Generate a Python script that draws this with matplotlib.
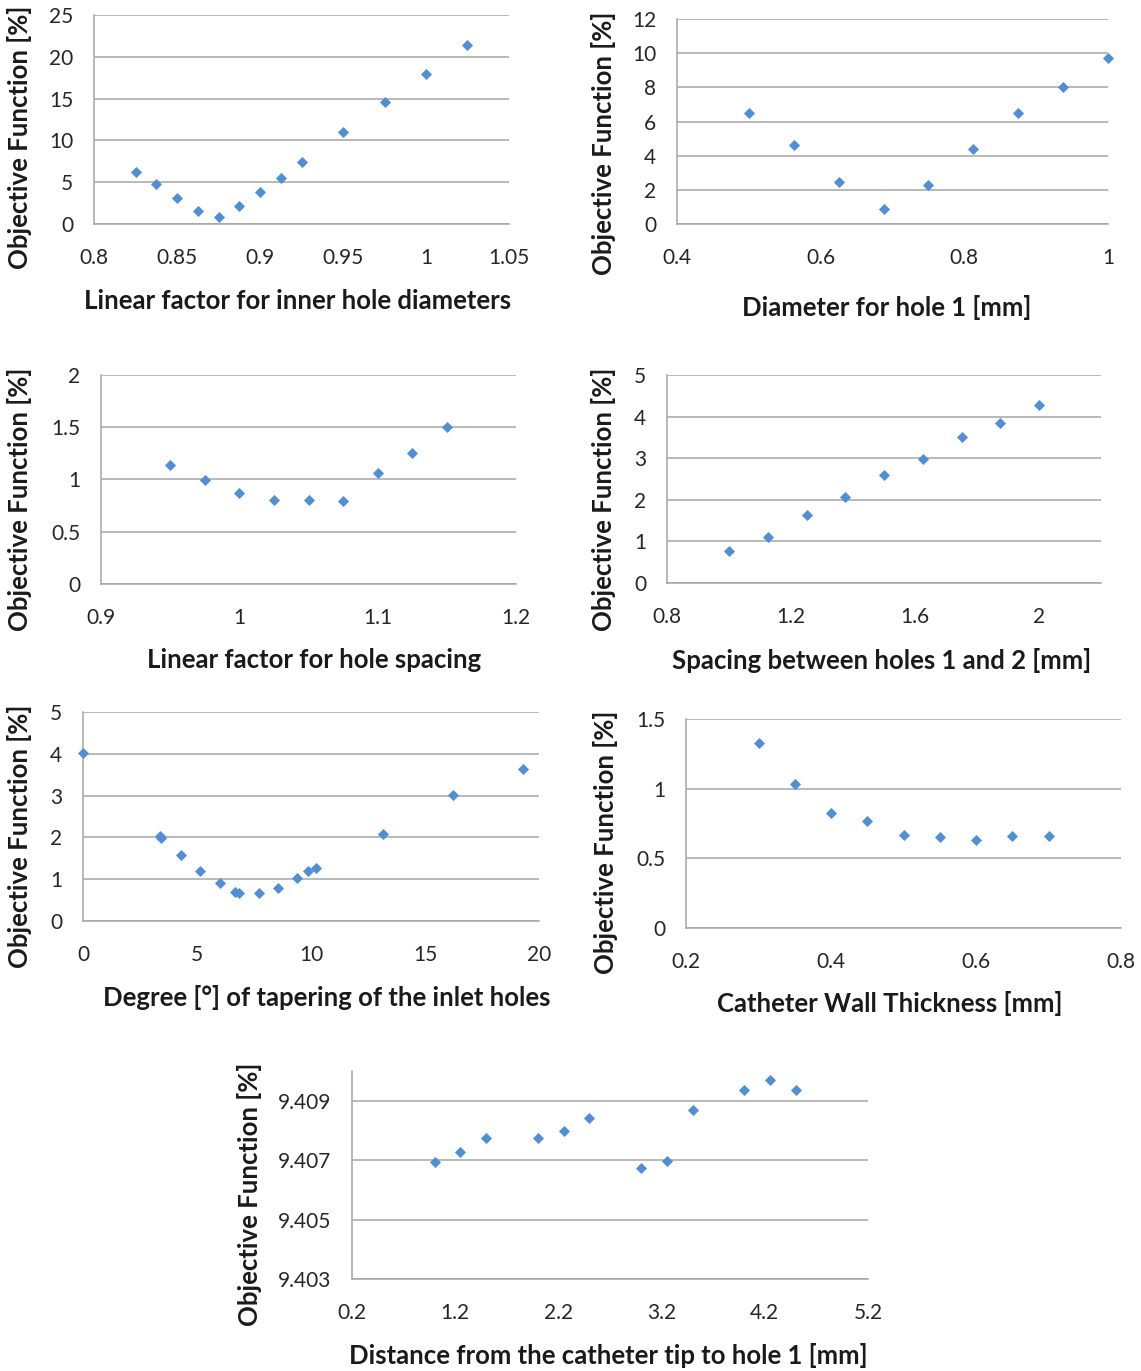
import matplotlib
matplotlib.use('Agg')
import matplotlib.pyplot as plt

plt.rcParams['font.family'] = ['Lato', 'DejaVu Sans']

W, H = 1141, 1371
BLUE = '#4f8fd6'
GRID = '#a6a6a6'

# panel 1 - linear factor for inner hole diameters
p1_x = [0.825, 0.8375, 0.85, 0.8625, 0.875, 0.8875, 0.9, 0.9125, 0.925, 0.95, 0.975, 1.0, 1.025]
p1_y = [6.18, 4.78, 3.07, 1.55, 0.88, 2.15, 3.87, 5.54, 7.38, 10.96, 14.55, 17.98, 21.4]

# panel 2 - diameter for hole 1
p2_x = [0.5, 0.5625, 0.625, 0.6875, 0.75, 0.8125, 0.875, 0.9375, 1.0]
p2_y = [6.51, 4.63, 2.48, 0.88, 2.27, 4.38, 6.51, 8.03, 9.71]

# panel 3 - linear factor for hole spacing
p3_x = [0.95, 0.975, 1.0, 1.025, 1.05, 1.075, 1.1, 1.125, 1.15]
p3_y = [1.143, 0.993, 0.868, 0.807, 0.807, 0.79, 1.066, 1.254, 1.503]

# panel 4 - spacing between holes 1 and 2
p4_x = [1.0, 1.125, 1.25, 1.375, 1.5, 1.625, 1.75, 1.875, 2.0]
p4_y = [0.767, 1.11, 1.637, 2.077, 2.596, 2.979, 3.498, 3.842, 4.281]

# panel 5 - tapering degree
p5_x = [0, 3.36, 3.44, 4.28, 5.15, 5.99, 6.65, 6.86, 7.70, 8.54, 9.40, 9.88, 10.20, 13.14, 16.24, 19.28]
p5_y = [4.03, 2.04, 1.98, 1.58, 1.20, 0.92, 0.70, 0.67, 0.67, 0.79, 1.02, 1.20, 1.27, 2.07, 3.01, 3.63]

# panel 6 - catheter wall thickness
p6_x = [0.3, 0.35, 0.4, 0.45, 0.5, 0.55, 0.6, 0.65, 0.7]
p6_y = [1.329, 1.033, 0.828, 0.771, 0.668, 0.652, 0.632, 0.659, 0.659]

# panel 7 - distance from tip to hole 1
p7_x = [1.0, 1.25, 1.5, 2.0, 2.25, 2.5, 3.0, 3.25, 3.5, 4.0, 4.25, 4.5]
p7_y = [9.40694, 9.40726, 9.40773, 9.40773, 9.40799, 9.40842, 9.40673, 9.40697,
        9.40869, 9.40935, 9.40969, 9.40935]

panels = [
    # x, y, box (l, r, top, bottom px), xlim, xticks, ylim, yticks, xlabel, xlab pos, ylab pos
    (p1_x, p1_y, (94, 509, 15, 224), (0.8, 1.05), [0.8, 0.85, 0.9, 0.95, 1, 1.05],
     (0, 25), [0, 5, 10, 15, 20, 25], 'Linear factor for inner hole diameters', (298, 301), (20, 137)),
    (p2_x, p2_y, (677, 1108, 19, 224), (0.4, 1.0), [0.4, 0.6, 0.8, 1],
     (0, 12), [0, 2, 4, 6, 8, 10, 12], 'Diameter for hole 1 [mm]', (887, 307), (604, 143)),
    (p3_x, p3_y, (101, 516, 375, 584), (0.9, 1.2), [0.9, 1, 1.1, 1.2],
     (0, 2), [0, 0.5, 1, 1.5, 2], 'Linear factor for hole spacing', (314, 660), (20, 499)),
    (p4_x, p4_y, (667, 1101, 375, 583), (0.8, 2.2), [0.8, 1.2, 1.6, 2],
     (0, 5), [0, 1, 2, 3, 4, 5], 'Spacing between holes 1 and 2 [mm]', (882, 660), (604, 499)),
    (p5_x, p5_y, (83, 539, 712, 921), (0, 20), [0, 5, 10, 15, 20],
     (0, 5), [0, 1, 2, 3, 4, 5], 'Degree [°] of tapering of the inlet holes', (327, 997), (20, 836)),
    (p6_x, p6_y, (686, 1121, 719, 928), (0.2, 0.8), [0.2, 0.4, 0.6, 0.8],
     (0, 1.5), [0, 0.5, 1, 1.5], 'Catheter Wall Thickness [mm]', (890, 1003), (605, 842)),
    (p7_x, p7_y, (352, 868, 1071, 1279), (0.2, 5.2), [0.2, 1.2, 2.2, 3.2, 4.2, 5.2],
     (9.403, 9.410), [9.403, 9.405, 9.407, 9.409], 'Distance from the catheter tip to hole 1 [mm]',
     (608, 1355), (250, 1194)),
]

fig = plt.figure(figsize=(W / 100, H / 100), dpi=100)

for x, y, box, xlim, xt, ylim, yt, xlab, xpos, ypos in panels:
    l, r, t, b = box
    ax = fig.add_axes([l / W, 1 - b / H, (r - l) / W, (b - t) / H])
    ax.scatter(x, y, marker='D', s=32, color=BLUE, zorder=3, clip_on=False, linewidths=0)
    ax.set_xlim(*xlim)
    ax.set_ylim(*ylim)
    ax.set_xticks(xt)
    ax.set_yticks(yt)
    ax.set_xticklabels([f'{v:g}' for v in xt])
    ax.set_yticklabels([f'{v:g}' for v in yt])
    ax.tick_params(length=0, labelsize=15, colors='#262626')
    ax.tick_params(axis='x', pad=17)
    ax.tick_params(axis='y', pad=15)
    ax.yaxis.grid(True, color=GRID, linewidth=1.1)
    ax.set_axisbelow(True)
    for s in ['top', 'right']:
        ax.spines[s].set_visible(False)
    for s in ['left', 'bottom']:
        ax.spines[s].set_color(GRID)
        ax.spines[s].set_linewidth(1.1)
    fig.text(xpos[0] / W, 1 - xpos[1] / H, xlab, ha='center', va='center',
             fontsize=18.5, fontweight='bold', color='#1a1a1a')
    fig.text(ypos[0] / W, 1 - ypos[1] / H, 'Objective Function [%]', ha='center', va='center',
             rotation=90, fontsize=18.5, fontweight='bold', color='#1a1a1a')

fig.savefig('out.png', dpi=100, facecolor='white')
